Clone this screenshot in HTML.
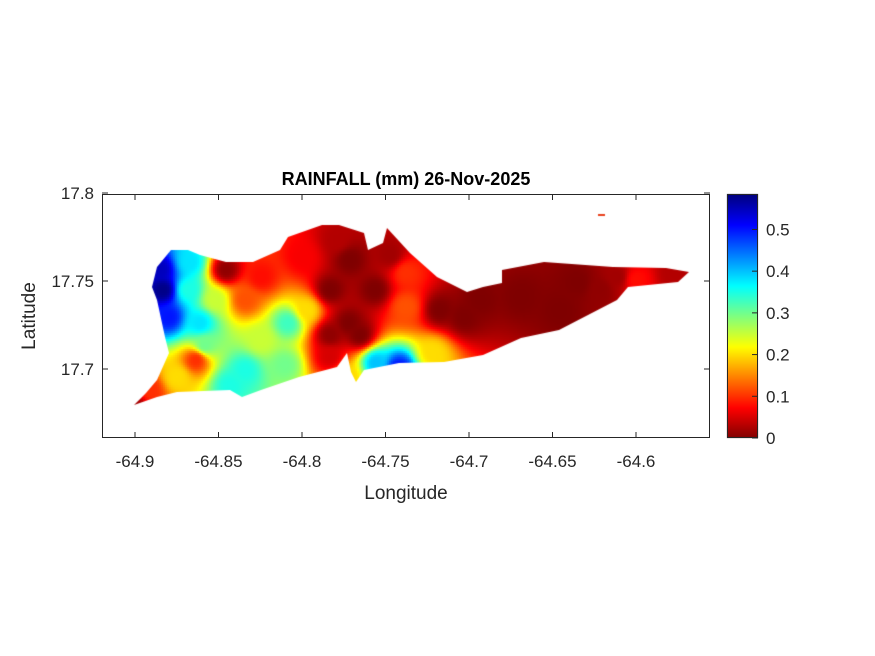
<!DOCTYPE html>
<html><head><meta charset="utf-8"><style>
body{margin:0;background:#fff;}
#wrap{position:relative;width:875px;height:656px;font-family:"Liberation Sans",sans-serif;}
svg text{font-family:"Liberation Sans",sans-serif;}
</style></head><body>
<div id="wrap">
<canvas id="cv" width="875" height="656" style="position:absolute;left:0;top:0"></canvas>
<svg id="sv" width="875" height="656" style="position:absolute;left:0;top:0"></svg>
</div>
<script>
// station data (lon, lat, rainfall mm)
const stLon=[-64.8832,-64.8796,-64.8683,-64.8611,-64.8635,-64.8749,-64.8455,-64.8521,-64.8245,-64.8341,-64.8341,-64.8245,-64.8084,-64.7970,-64.7994,-64.7832,-64.7719,-64.7790,-64.7832,-64.7563,-64.7377,-64.7377,-64.7557,-64.7419,-64.7215,-64.7030,-64.6688,-64.6347,-64.6113,-64.6000,-64.5772,-64.8910,-64.9006,-64.7719,
 -64.7713,-64.7473,-64.7653,-64.7174,-64.6934,-64.6455,-64.6216,-64.8850,-64.8671,-64.8581,-64.8431,-64.8102,-64.7832];
const stLat=[17.7449,17.7295,17.7449,17.7261,17.7051,17.6955,17.7562,17.7392,17.7165,17.6994,17.7392,17.7523,17.7261,17.7335,17.7636,17.7449,17.7261,17.7733,17.7068,17.7449,17.7352,17.7545,17.7034,17.7006,17.7091,17.7295,17.7409,17.7489,17.7523,17.7506,17.7545,17.6881,17.6796,17.6955,
 17.7619,17.7648,17.7193,17.7335,17.7392,17.7335,17.7449,17.7562,17.7608,17.7136,17.6909,17.7023,17.7193];
const stVal=[0.58,0.5,0.35,0.38,0.1,0.2,0.01,0.25,0.25,0.35,0.12,0.08,0.33,0.2,0.07,0,0,0.03,0.05,0,0.12,0.1,0.4,0.5,0.2,0,0,0,0.02,0.08,0.03,0.1,0.02,0.2,
 0,0.02,0,0,0,0,0.01,0.55,0.38,0.3,0.35,0.3,0.01];
const xTicks=[-64.9,-64.85,-64.8,-64.75,-64.7,-64.65,-64.6];
const yTicks=[17.7,17.75,17.8];
const cbTicks=[0,0.1,0.2,0.3,0.4,0.5];
const cMax=0.585;
const coastPx=[[134,405],[157,397],[177,392],[230,390],[242,397],[261,390],[299,377],[337,367],[347,353],[351,372],[356,382],[364,370],[399,363],[444,362],[483,355],[521,338],[559,330],[617,300],[628,287],[678,282],[689,272],[666,268],[613,267],[544,262],[502,270],[502,283],[483,287],[467,292],[437,277],[410,253],[387,228],[383,243],[368,250],[364,233],[339,225],[322,225],[288,237],[280,250],[253,262],[226,262],[200,255],[188,250],[171,250],[157,267],[152,287],[157,300],[165,337],[169,353],[157,380],[146,393]];
const X0=135,DX=83.5,Y0=281,DY=88;
const xs=lon=>X0+(lon+64.9)/0.05*DX;
const ys=lat=>Y0-(lat-17.75)/0.05*DY;
const xinv=px=>-64.9+(px-X0)/DX*0.05;
const yinv=py=>17.75-(py-Y0)/DY*0.05;
const coast=coastPx.map(p=>[xinv(p[0]),yinv(p[1])]);
function cmap(v){v=1-Math.max(0,Math.min(1,v));
 const r=Math.max(0,Math.min(1,1.5-Math.abs(4*v-3))),g=Math.max(0,Math.min(1,1.5-Math.abs(4*v-2))),b=Math.max(0,Math.min(1,1.5-Math.abs(4*v-1)));
 return [r*255|0,g*255|0,b*255|0];}
const cv=document.getElementById('cv'),ctx=cv.getContext('2d');
ctx.save();ctx.beginPath();
coast.forEach((c,i)=>{const x=xs(c[0]),y=ys(c[1]);i?ctx.lineTo(x,y):ctx.moveTo(x,y);});
ctx.closePath();ctx.clip();
const cell=2;
for(let py=215;py<410;py+=cell){for(let px=125;px<695;px+=cell){
 const lon=xinv(px+1),lat=yinv(py+1);let sw=0,sv=0;
 for(let k=0;k<stVal.length;k++){const dx=(lon-stLon[k])/0.05*DX,dy=(lat-stLat[k])/0.05*DY;
  const d2=dx*dx+dy*dy+4;const w=1/Math.pow(d2,1.6);sw+=w;sv+=w*stVal[k];}
 const c=cmap(sv/sw/cMax);ctx.fillStyle='rgb('+c+')';ctx.fillRect(px,py,cell,cell);}}
ctx.restore();
ctx.fillStyle='#e8401c';ctx.fillRect(598,214,7,2);
const cbT=194,cbB=438;
for(let y=cbT;y<cbB;y++){const c=cmap((cbB-y)/(cbB-cbT));ctx.fillStyle='rgb('+c+')';ctx.fillRect(727,y,31,1);}
const NS='http://www.w3.org/2000/svg',sv=document.getElementById('sv');
function el(t,a,txt){const e=document.createElementNS(NS,t);for(const k in a)e.setAttribute(k,a[k]);if(txt!==undefined)e.textContent=txt;sv.appendChild(e);return e;}
let e;
e=el('rect',{x:102.5,y:194.5,width:607,height:243,fill:'none',stroke:'#262626','stroke-width':1});


xTicks.forEach(t=>{const x=xs(t);
 e=el('line',{x1:x,x2:x,y1:438,y2:432,stroke:'#262626'});
 
 
 e=el('line',{x1:x,x2:x,y1:194,y2:200,stroke:'#262626'});
 
 
 e=el('text',{x:x,y:467,'text-anchor':'middle','font-size':17,fill:'#262626'},String(t));
 
 });
yTicks.forEach(t=>{const y=ys(t);
 e=el('line',{x1:102,x2:108,y1:y,y2:y,stroke:'#262626'});
 
 
 e=el('line',{x1:710,x2:704,y1:y,y2:y,stroke:'#262626'});
 
 
 e=el('text',{x:94,y:y+6,'text-anchor':'end','font-size':17,fill:'#262626'},String(t));
 
 });
e=el('rect',{x:727.5,y:194.5,width:30,height:243,fill:'none',stroke:'#262626'});


cbTicks.forEach(t=>{const y=cbB-t/cMax*(cbB-cbT);
 e=el('line',{x1:752,x2:758,y1:y,y2:y,stroke:'#262626'});
 
 
 e=el('text',{x:766,y:y+6,'font-size':17,fill:'#262626'},String(t));
 
 });
e=el('text',{x:406,y:185,'text-anchor':'middle','font-size':18,'font-weight':'bold',fill:'#000'},'RAINFALL (mm) 26-Nov-2025');


e=el('text',{x:406,y:499,'text-anchor':'middle','font-size':19,fill:'#262626'},'Longitude');


e=el('text',{x:0,y:0,'text-anchor':'middle','font-size':19,fill:'#262626',transform:'translate(35,316) rotate(-90)'},'Latitude');


</script>
</body></html>
